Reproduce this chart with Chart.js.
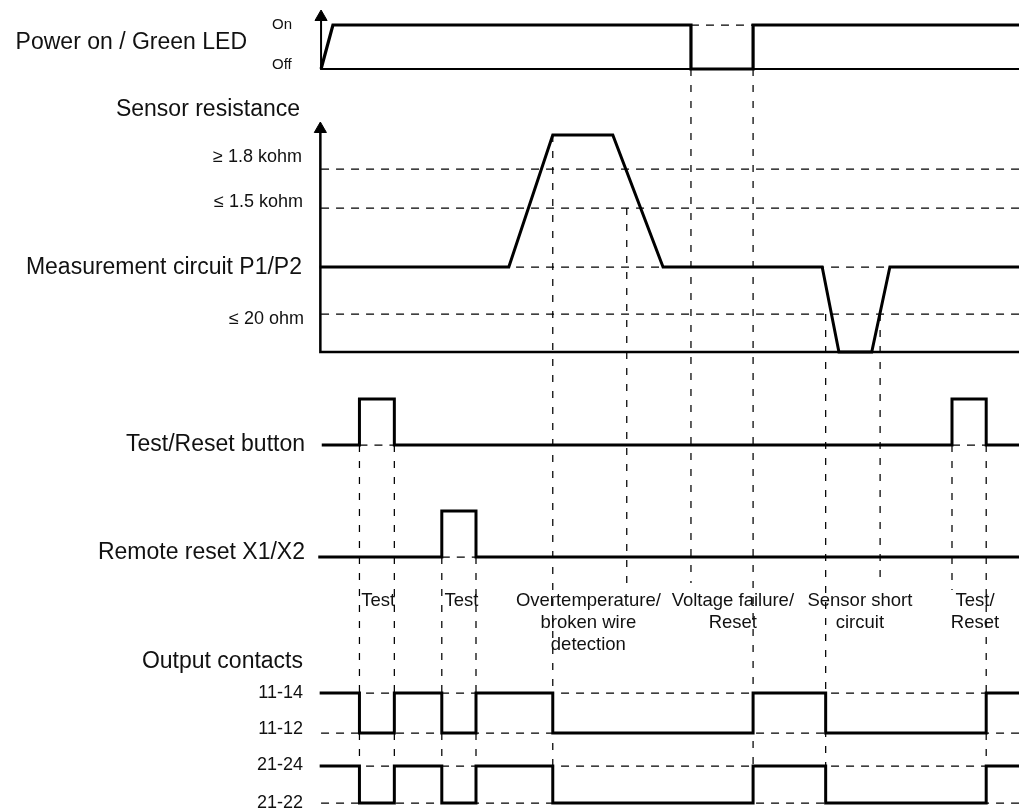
<!DOCTYPE html>
<html lang="en">
<head>
<meta charset="utf-8">
<title>Timing diagram</title>
<script src="https://cdn.jsdelivr.net/npm/chart.js@4/dist/chart.umd.min.js"></script>
<style>
  html, body { margin: 0; padding: 0; background: #fff; }
  #wrap { width: 1019px; height: 810px; }
</style>
</head>
<body>
<div id="wrap"><canvas id="timing" width="1019" height="810"></canvas></div>
<script>
// timing.js — 動作タイミング図を Chart.js (scatter + showLine) で描く
// ============================================
// 横軸 = 相対時間 (0〜100)、縦軸 = 各信号レーンのレベル
// ============================================

// --- 信号データ ---
// Power on / Green LED (0 = Off, 1 = On)
const powerTimes  = [0, 1.7, 53.0, 53.0, 61.9, 61.9, 100];
const powerLevels = [0, 1, 1, 0, 0, 1, 1];

// Sensor resistance (sensorLevelNames のインデックス)
const sensorLevelNames = ['short', '≤ 20 ohm', 'P1/P2', '≤ 1.5 kohm', '≥ 1.8 kohm', 'open'];
const sensorTimes  = [-0.2, 26.9, 33.2, 41.8, 49.0, 71.8, 74.2, 78.9, 81.5, 100];
const sensorLevels = [2, 2, 5, 5, 2, 2, 0, 0, 2, 2];

// デジタル信号はエッジの時刻と変化後のレベル (stepped 描画)
const buttonTimes  = [0.1, 5.5, 10.5, 90.4, 95.3, 100];
const buttonLevels = [0, 1, 0, 1, 0, 0];

const remoteTimes  = [-0.4, 17.3, 22.2, 100];
const remoteLevels = [0, 1, 0, 0];

// 出力接点 (1 = 11-14 / 21-24 側, 0 = 11-12 / 21-22 側)
const contactTimes  = [-0.2, 5.5, 10.5, 17.3, 22.2, 33.2, 61.9, 72.3, 95.3, 100];
const contactLevels = [1, 0, 1, 0, 1, 0, 1, 0, 1, 1];

// 縦の破線 (イベント時刻)
const eventTimes = [5.5, 10.5, 17.3, 22.2, 33.2, 43.8, 53.0, 61.9, 72.3, 80.1, 90.4, 95.3];

// イベント説明
const eventLabelTimes = [8.2, 20.1, 38.3, 59.0, 77.2, 93.7];
const eventLabels = [
  ['Test'], ['Test'],
  ['Overtemperature/', 'broken wire', 'detection'],
  ['Voltage failure/', 'Reset'],
  ['Sensor short', 'circuit'],
  ['Test/', 'Reset']
];

// 左側のラベル
const rowTitles = [
  'Power on / Green LED', 'Sensor resistance', 'Measurement circuit P1/P2',
  'Test/Reset button', 'Remote reset X1/X2', 'Output contacts'
];
const rowSubTitles = ['On', 'Off', '≥ 1.8 kohm', '≤ 1.5 kohm', '≤ 20 ohm', '11-14', '11-12', '21-24', '21-22'];

// ---------------------------------
// レイアウト (縦位置は y スケールの単位)
// ---------------------------------
const LANE = {
  power:  { off: 69, on: 25, arrow: 17 },
  sensor: { levels: [352, 314, 267, 208, 169, 135], arrow: 129 },
  button: { low: 445, high: 399 },
  remote: { low: 557, high: 511 },
  c1:     { high: 693, low: 733 },
  c2:     { high: 766, low: 803 }
};
// 各イベント破線の上端・下端
const GUIDE_SPAN = [
  [445, 803], [445, 803], [557, 803], [557, 803], [135, 803], [208, 583],
  [69, 583], [69, 803], [314, 803], [314, 583], [445, 590], [445, 803]
];
// [右端x, y, px]
const TITLE_POS = [[247, 43, 23], [300, 110, 23], [302, 268, 23], [305, 445, 23], [305, 553, 23], [303, 662, 23]];
// [x, y, px, align]
const SUB_POS = [
  [272, 25, 15, 'left'], [272, 65, 15, 'left'],
  [302, 157, 18, 'right'], [303, 202, 18, 'right'], [304, 319, 18, 'right'],
  [303, 693, 18, 'right'], [303, 729, 18, 'right'], [303, 765, 18, 'right'], [303, 803, 18, 'right']
];
const EVENT_LABEL_Y = 601;
const EVENT_LINE_H = 22;
const FONT = '"Liberation Sans", Arial, sans-serif';
const DASH_W = 1.25;

// ---------------------------------
// データセット生成
// ---------------------------------
const datasets = [];

function addLine(points, opts) {
  datasets.push(Object.assign({
    data: points,
    showLine: true,
    borderColor: '#000',
    borderWidth: 3,
    borderJoinStyle: 'miter',
    borderCapStyle: 'butt',
    pointRadius: 0,
    fill: false,
    order: 0
  }, opts));
}
function dashH(y, t0, t1) {
  addLine([{ x: t0, y }, { x: t1, y }], { borderWidth: DASH_W, borderDash: [8, 7], order: 2 });
}
function toPoints(times, levels, map) {
  return times.map((t, i) => ({ x: t, y: map(levels[i]) }));
}
const arrowOpts = r => ({
  pointRadius: r, pointStyle: 'triangle',
  pointBackgroundColor: '#000', pointBorderColor: '#000', pointBorderWidth: 1
});

// Power 軸と信号
const P = LANE.power;
addLine([{ x: 100, y: P.off }, { x: 0, y: P.off }, { x: 0, y: P.arrow }],
  Object.assign({ borderWidth: 2 }, arrowOpts([0, 0, 7])));
addLine(toPoints(powerTimes, powerLevels, v => v ? P.on : P.off), { borderWidth: 3.2 });
dashH(P.on, powerTimes[2], powerTimes[5]);

// Sensor 軸と信号
const S = LANE.sensor;
[1, 2, 3, 4].forEach(i => dashH(S.levels[i], 0, 100));
addLine([{ x: 100, y: S.levels[0] }, { x: -0.1, y: S.levels[0] }, { x: -0.1, y: S.arrow }],
  Object.assign({ borderWidth: 2.5 }, arrowOpts([0, 0, 7])));
addLine(toPoints(sensorTimes, sensorLevels, v => S.levels[v]), { borderWidth: 3 });

// Test/Reset ボタン, Remote reset
const B = LANE.button, R = LANE.remote;
addLine(toPoints(buttonTimes, buttonLevels, v => v ? B.high : B.low), { stepped: true });
dashH(B.low, buttonTimes[1], buttonTimes[2]);
dashH(B.low, buttonTimes[3], buttonTimes[4]);
addLine(toPoints(remoteTimes, remoteLevels, v => v ? R.high : R.low), { stepped: true });
dashH(R.low, remoteTimes[1], remoteTimes[2]);

// 出力接点
[LANE.c1, LANE.c2].forEach(c => {
  dashH(c.high, 0, 100);
  dashH(c.low, 0, 100);
  addLine(toPoints(contactTimes, contactLevels, v => v ? c.high : c.low), { stepped: true });
});

// イベント破線
eventTimes.forEach((t, i) => {
  addLine([{ x: t, y: GUIDE_SPAN[i][0] }, { x: t, y: GUIDE_SPAN[i][1] }],
    { borderWidth: DASH_W, borderDash: [7, 9], order: 2 });
});

// ---------------------------------
// テキスト描画プラグイン
// ---------------------------------
const textPlugin = {
  id: 'timingText',
  afterDatasetsDraw(chart) {
    const ctx = chart.ctx;
    const xs = chart.scales.x, ys = chart.scales.y;
    ctx.save();
    ctx.fillStyle = '#111';
    ctx.textBaseline = 'middle';

    rowTitles.forEach((txt, i) => {
      const [x, y, px] = TITLE_POS[i];
      ctx.font = `${px}px ${FONT}`;
      ctx.textAlign = 'right';
      ctx.fillText(txt, x, ys.getPixelForValue(y));
    });
    rowSubTitles.forEach((txt, i) => {
      const [x, y, px, align] = SUB_POS[i];
      ctx.font = `${px}px ${FONT}`;
      ctx.textAlign = align;
      ctx.fillText(txt, x, ys.getPixelForValue(y));
    });

    ctx.font = `18.5px ${FONT}`;
    ctx.textAlign = 'center';
    eventLabels.forEach((lines, i) => {
      const x = xs.getPixelForValue(eventLabelTimes[i]);
      lines.forEach((ln, j) => {
        ctx.fillText(ln, x, ys.getPixelForValue(EVENT_LABEL_Y + j * EVENT_LINE_H));
      });
    });
    ctx.restore();
  }
};

new Chart(document.getElementById('timing'), {
  type: 'scatter',
  data: { datasets },
  options: {
    responsive: false,
    devicePixelRatio: 1,
    animation: false,
    events: [],
    layout: { padding: 0, autoPadding: false },
    plugins: { legend: { display: false }, tooltip: { enabled: false } },
    scales: {
      x: { type: 'linear', min: -46, max: 100, display: false },
      y: { type: 'linear', min: 0, max: 810, reverse: true, display: false }
    }
  },
  plugins: [textPlugin]
});
</script>
</body>
</html>
